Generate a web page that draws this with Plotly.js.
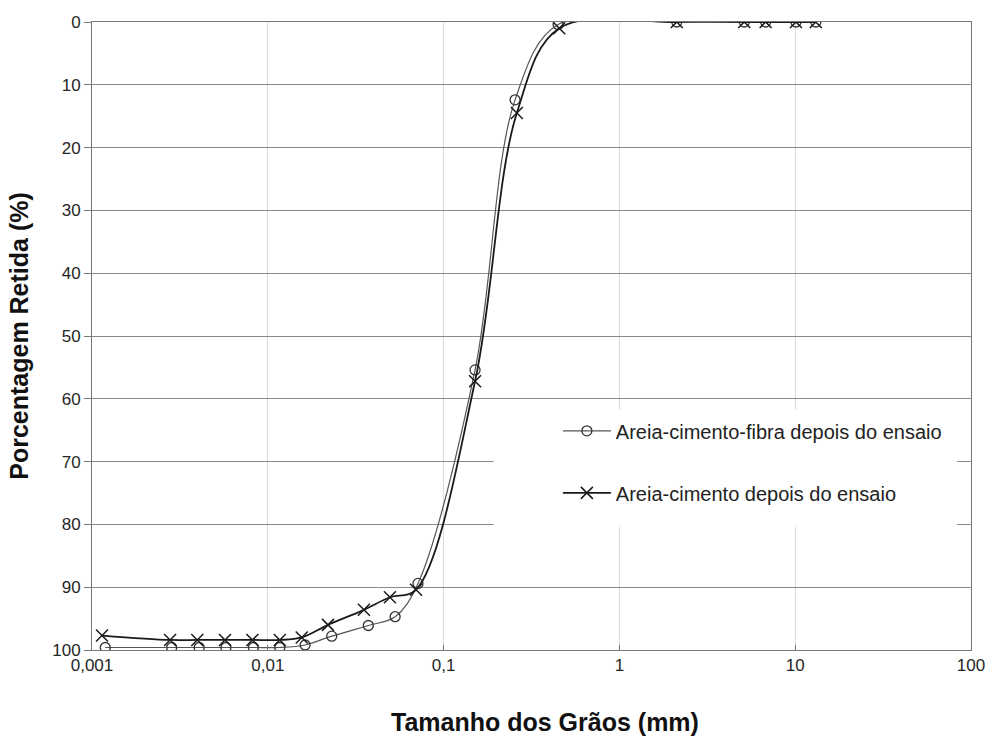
<!DOCTYPE html>
<html>
<head>
<meta charset="utf-8">
<script src="https://cdn.plot.ly/plotly-3.0.1.min.js"></script>
<style>
  html, body { margin: 0; padding: 0; background: #ffffff; }
  #chart { width: 992px; height: 737px; }
</style>
</head>
<body>
<div id="chart"></div>
<script>
// Curva granulométrica: porcentagem retida x tamanho dos grãos (escala log)
const nomeFibra = 'Areia-cimento-fibra depois do ensaio';
const nomeCimento = 'Areia-cimento depois do ensaio';

const diamFibra = [0.00119, 0.00284, 0.00407, 0.00578, 0.00828, 0.0117, 0.0163, 0.0231, 0.0373, 0.0530, 0.0715, 0.151, 0.255, 0.448, 2.12, 5.13, 6.79, 10.1, 13.1];
const retidaFibra = [99.6, 99.6, 99.6, 99.6, 99.6, 99.6, 99.2, 97.8, 96.1, 94.7, 89.4, 55.4, 12.4, 0.4, 0, 0, 0, 0, 0];

const diamCimento = [0.00114, 0.00278, 0.00397, 0.00571, 0.00817, 0.0117, 0.0156, 0.0220, 0.0352, 0.0495, 0.0697, 0.151, 0.261, 0.455, 2.12, 5.13, 6.79, 10.1, 13.1];
const retidaCimento = [97.7, 98.4, 98.4, 98.4, 98.4, 98.4, 98.0, 96.0, 93.6, 91.6, 90.4, 57.2, 14.5, 1.0, 0, 0, 0, 0, 0];

const xTickVals = [0.001, 0.01, 0.1, 1, 10, 100];
const xTickText = ['0,001', '0,01', '0,1', '1', '10', '100'];
const yTickVals = [0, 10, 20, 30, 40, 50, 60, 70, 80, 90, 100];

const tituloX = 'Tamanho dos Grãos (mm)';
const tituloY = 'Porcentagem Retida (%)';

const fonte = 'Liberation Sans, Arial, sans-serif';

const traces = [
  {
    x: diamFibra, y: retidaFibra, name: nomeFibra,
    type: 'scatter', mode: 'lines+markers', legendgroup: 'g1',
    line: { color: '#555555', width: 1.2, shape: 'spline', smoothing: 1 },
    marker: { symbol: 'circle-open', size: 10, color: '#333333', line: { width: 1.3 } }
  },
  {
    x: diamCimento, y: retidaCimento, name: nomeCimento,
    type: 'scatter', mode: 'lines+markers', legendgroup: 'g2',
    line: { color: '#1a1a1a', width: 1.8, shape: 'spline', smoothing: 1 },
    marker: { symbol: 'x-thin-open', size: 12, color: '#1a1a1a', line: { width: 1.5 } }
  }
];

const layout = {
  width: 992, height: 737,
  margin: { l: 92, r: 21, t: 22, b: 87 },
  paper_bgcolor: '#ffffff', plot_bgcolor: '#ffffff',
  font: { family: fonte, color: '#222222', size: 16 },
  showlegend: true,
  legend: {
    x: 0.53, xanchor: 'left', y: 0.38, yanchor: 'top',
    bgcolor: 'rgba(0,0,0,0)', borderwidth: 0,
    traceorder: 'grouped', tracegroupgap: 33, itemwidth: 48,
    font: { family: fonte, size: 20, color: '#222222' }
  },
  // blank band behind the legend, interrupting the 70 and 80 grid lines
  shapes: [
    { type: 'rect', xref: 'paper', yref: 'paper', layer: 'above',
      x0: 0.457, x1: 0.984, y0: 0.196, y1: 0.382,
      fillcolor: '#ffffff', line: { width: 0 } }
  ],
  annotations: [
    { text: tituloX, xref: 'paper', yref: 'paper', x: 0.515, y: -0.115,
      xanchor: 'center', yanchor: 'middle', showarrow: false,
      font: { family: fonte, size: 25, color: '#111111', weight: 'bold' } }
  ],
  xaxis: {
    type: 'log', range: [-3, 2],
    tickvals: xTickVals, ticktext: xTickText,
    ticks: 'inside', ticklen: 5, tickcolor: '#777777',
    showgrid: true, gridcolor: '#dcdcdc', gridwidth: 1,
    showline: true, linecolor: '#777777', linewidth: 1, mirror: true,
    zeroline: false,
    tickfont: { family: fonte, size: 17, color: '#262626' }
  },
  yaxis: {
    range: [100, 0], tickvals: yTickVals,
    ticks: 'outside', ticklen: 7, tickcolor: '#777777',
    showgrid: true, gridcolor: '#8a8a8a', gridwidth: 1,
    showline: true, linecolor: '#777777', linewidth: 1, mirror: true,
    zeroline: false,
    tickfont: { family: fonte, size: 17, color: '#262626' },
    title: { text: tituloY, standoff: 16,
             font: { family: fonte, size: 25, color: '#111111', weight: 'bold' } }
  }
};

Plotly.newPlot('chart', traces, layout, { staticPlot: true, displayModeBar: false });
</script>
</body>
</html>
